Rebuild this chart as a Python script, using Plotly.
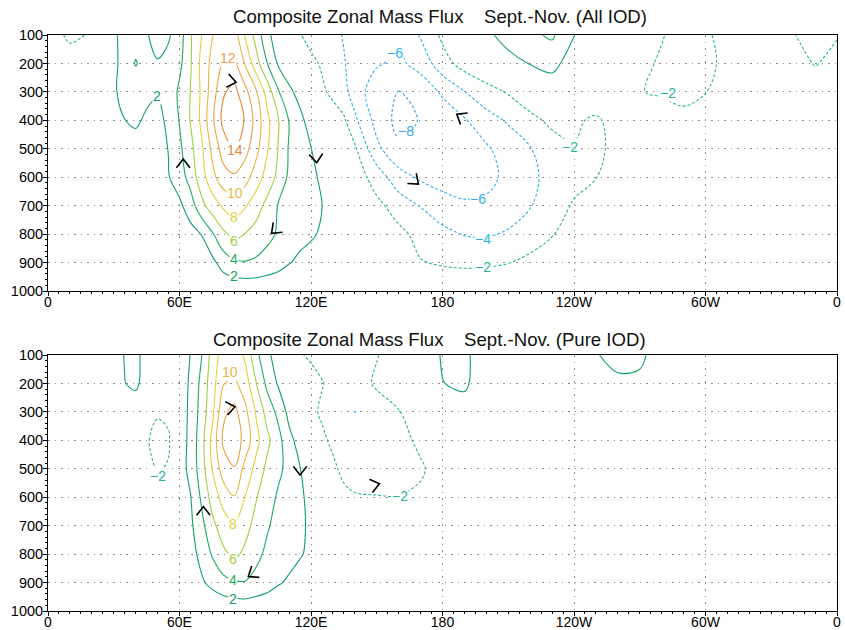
import math
import plotly.graph_objects as go

# Longitude columns (deg E) and pressure rows (hPa) of the flux grids
LON = [0, 10, 20, 25, 30, 35, 40, 45, 50, 55,
       60, 65, 70, 75, 80, 85, 90, 95, 100, 105, 110, 115, 120, 125, 130, 135, 140,
       150, 160, 170, 180, 190, 200, 210, 220, 230, 240, 250,
       260, 270, 280, 290, 300, 310, 320, 330, 340, 350, 360]
PRES = [100, 200, 300, 400, 500, 600, 700, 800, 900, 1000]

# Composite zonal mass flux, Sept.-Nov., all IOD events (one list per level)
ALL_P100 = [-1.5, -2.2, -1.9, 0.5, 1.8, 2.4, 2.3, 2.1, 1.5, 1.8,
            3.0, 5.8, 7.95, 9.9, 10.9, 11.0, 7.8, 5.2, 2.5, 1.0, 0.0, -1.9, -2.6, -3.0, -3.6, -4.1, -4.6,
            -5.2, -5.6, -3.8, -1.6, -1.0, 1.5, 2.9, 3.6, 4.3, 2.05, 0.5,
            0.0, -0.8, -1.9, -2.6, -2.3, -1.3, -0.5, -0.9, -1.95, -2.4, -2.1]
ALL_P200 = [-0.8, -1.5, -0.8, 0.5, 1.7, 2.5, 1.95, 2.3, 2.1, 2.5,
            3.5, 5.8, 8.5, 10.6, 12.1, 12.5, 9.8, 6.8, 4.05, 1.8, 0.5, -0.6, -1.6, -2.2, -3.0, -3.9, -4.6,
            -5.8, -6.4, -5.3, -2.8, -1.2, 0.0, 1.2, 2.1, 2.6, 1.0, 0.0,
            -0.5, -1.6, -2.2, -2.6, -2.4, -1.6, -0.5, -0.5, -1.3, -2.1, -1.5]
ALL_P300 = [-0.5, -0.6, 0.0, 0.8, 1.8, 2.5, 2.5, 2.3, 2.1, 2.6,
            4.4, 6.05, 8.3, 11.0, 13.8, 14.6, 12.6, 10.2, 7.2, 4.2, 2.5, 1.2, -0.9, -1.7, -2.4, -3.4, -4.9,
            -7.2, -8.05, -7.2, -5.7, -4.05, -2.9, -1.8, -0.8, 0.8, 0.3, -0.6,
            -0.8, -1.9, -2.3, -2.5, -2.05, -1.0, -0.3, -0.2, -0.6, -1.0, -0.6]
ALL_P400 = [-0.3, -0.3, 0.2, 0.8, 1.5, 1.98, 2.2, 1.8, 1.6, 2.3,
            4.1, 6.1, 8.4, 11.6, 14.6, 15.5, 13.8, 11.2, 8.5, 6.2, 3.9, 2.6, 1.0, -0.4, -1.1, -1.7, -3.6,
            -6.7, -8.6, -7.9, -7.2, -6.2, -4.7, -3.8, -2.5, -1.6, -1.7, -2.3,
            -1.2, -0.8, -0.6, -1.5, -1.0, -0.5, -0.2, 0.0, -0.3, -0.5, -0.3]
ALL_P500 = [-0.2, 0.0, 0.3, 0.5, 0.8, 1.0, 1.5, 1.3, 1.4, 2.05,
            3.6, 5.4, 7.6, 10.5, 12.9, 14.05, 12.7, 10.6, 8.2, 5.95, 3.8, 2.8, 2.05, 1.0, -0.5, -1.0, -1.7,
            -5.5, -7.6, -7.8, -7.6, -7.0, -6.3, -5.0, -4.1, -2.8, -2.1, -2.6,
            -1.2, -0.7, -0.5, -0.6, -0.4, -0.3, -0.1, 0.0, -0.2, -0.3, -0.2]
ALL_P600 = [-0.2, 0.0, 0.2, 0.3, 0.5, 0.7, 0.9, 1.0, 1.2, 1.9,
            3.0, 4.8, 7.1, 9.4, 11.2, 11.7, 10.8, 9.0, 7.2, 5.5, 3.6, 3.0, 2.4, 1.7, 0.8, -0.3, -0.9,
            -2.9, -5.2, -6.3, -6.9, -7.0, -6.6, -5.5, -4.4, -3.4, -2.6, -2.05,
            -1.0, -0.5, -0.3, -0.2, -0.1, 0.0, 0.0, 0.0, -0.1, -0.2, -0.2]
ALL_P700 = [-0.1, 0.0, 0.1, 0.2, 0.3, 0.4, 0.5, 0.6, 0.8, 1.1,
            1.6, 3.0, 5.4, 7.0, 8.3, 9.0, 8.2, 6.9, 5.4, 3.9, 3.2, 2.8, 2.4, 2.05, 1.2, 0.3, -0.3,
            -1.5, -2.9, -4.1, -5.1, -5.7, -5.6, -4.9, -4.1, -2.9, -1.8, -1.0,
            -0.5, -0.3, -0.2, -0.1, 0.0, 0.0, 0.0, 0.0, -0.1, -0.1, -0.1]
ALL_P800 = [0.0, 0.1, 0.1, 0.1, 0.2, 0.2, 0.3, 0.3, 0.4, 0.6,
            0.9, 1.3, 2.05, 3.8, 5.6, 6.6, 5.95, 5.2, 4.5, 3.8, 3.2, 2.6, 2.3, 1.7, 1.1, 0.4, 0.0,
            -0.5, -1.5, -2.6, -3.5, -4.1, -4.2, -3.8, -3.0, -2.1, -1.2, -0.6,
            -0.3, -0.1, 0.0, 0.0, 0.0, 0.0, 0.0, 0.0, 0.0, 0.0, 0.0]
ALL_P900 = [0.0, 0.0, 0.0, 0.0, 0.1, 0.1, 0.1, 0.2, 0.2, 0.3,
            0.5, 0.7, 1.0, 1.5, 2.9, 3.7, 3.9, 3.7, 3.3, 2.8, 2.1, 1.6, 1.1, 0.7, 0.4, 0.2, 0.0,
            -0.3, -0.9, -1.9, -2.2, -2.3, -2.25, -2.05, -1.5, -1.0, -0.5, -0.3,
            -0.1, 0.0, 0.0, 0.0, 0.0, 0.0, 0.0, 0.0, 0.0, 0.0, 0.0]
ALL_P1000 = [0.0, 0.0, 0.0, 0.0, 0.0, 0.0, 0.0, 0.0, 0.0, 0.0,
             0.1, 0.1, 0.2, 0.2, 0.3, 0.4, 0.5, 0.5, 0.4, 0.3, 0.2, 0.1, 0.1, 0.0, 0.0, 0.0, 0.0,
             0.0, -0.2, -0.4, -0.6, -0.8, -0.8, -0.6, -0.4, -0.2, -0.1, 0.0,
             0.0, 0.0, 0.0, 0.0, 0.0, 0.0, 0.0, 0.0, 0.0, 0.0, 0.0]

# Composite zonal mass flux, Sept.-Nov., pure IOD events
PURE_P100 = [0.0, 0.1, 0.3, 0.5, 1.0, 2.1, 2.5, 1.2, 0.6, 0.5,
             0.8, 2.05, 3.9, 6.8, 9.0, 9.3, 7.6, 4.5, 2.5, 1.0, 0.0, -1.8, -2.4, -2.6, -2.7, -2.8, -2.9,
             -2.1, -1.0, 0.5, 2.2, 2.6, 0.3, 0.1, 0.3, 0.6, 1.2, 1.9,
             2.5, 2.4, 1.0, 0.4, 0.2, 0.1, 0.0, 0.0, 0.0, 0.0, 0.0]
PURE_P200 = [0.0, 0.1, 0.3, 0.5, 0.9, 1.95, 2.4, 1.1, 0.5, 0.5,
             0.9, 2.3, 4.5, 7.2, 9.9, 10.4, 9.0, 6.05, 3.5, 1.8, 0.6, -0.3, -1.0, -1.9, -2.5, -2.8, -3.0,
             -1.7, -0.8, 0.3, 1.95, 2.4, 0.5, 0.1, 0.2, 0.3, 0.6, 1.0,
             1.7, 1.6, 0.8, 0.3, 0.1, 0.0, 0.0, 0.0, 0.0, 0.0, 0.0]
PURE_P300 = [0.0, 0.0, 0.2, 0.3, 0.5, 0.6, 0.8, -0.8, -1.8, -1.5,
             1.0, 2.4, 4.8, 7.5, 11.6, 12.6, 10.5, 7.8, 5.2, 3.5, 1.4, 0.3, -1.5, -2.3, -3.2, -3.8, -4.02,
             -3.0, -2.1, -0.9, 0.2, 1.0, 0.2, 0.0, 0.0, 0.1, 0.2, 0.3,
             0.6, 0.6, 0.3, 0.1, 0.0, 0.0, 0.0, 0.0, 0.0, 0.0, 0.0]
PURE_P400 = [0.0, 0.0, 0.1, 0.2, 0.3, 0.4, 0.2, -1.8, -2.6, -2.3,
             1.0, 2.5, 5.2, 8.6, 12.4, 13.2, 11.3, 8.6, 6.5, 4.7, 2.6, 1.2, -0.6, -1.6, -2.4, -3.0, -3.6,
             -3.3, -2.8, -1.5, -0.5, 0.0, 0.0, 0.0, 0.0, 0.0, 0.0, 0.0,
             0.0, 0.0, 0.0, 0.0, 0.0, 0.0, 0.0, 0.0, 0.0, 0.0, 0.0]
PURE_P500 = [0.0, 0.0, 0.1, 0.1, 0.2, 0.3, 0.2, -1.2, -2.2, -1.8,
             1.0, 2.6, 5.0, 8.1, 11.0, 11.9, 9.3, 7.4, 5.5, 4.5, 3.3, 2.05, 1.0, -0.8, -1.6, -2.5, -3.0,
             -3.2, -3.0, -2.3, -0.9, -0.3, 0.0, 0.0, 0.0, 0.0, 0.0, 0.0,
             0.0, 0.0, 0.0, 0.0, 0.0, 0.0, 0.0, 0.0, 0.0, 0.0, 0.0]
PURE_P600 = [0.0, 0.0, 0.0, 0.1, 0.1, 0.2, 0.2, -0.4, -0.8, -0.5,
             1.0, 1.9, 4.3, 6.8, 8.8, 9.9, 7.95, 6.1, 5.0, 3.7, 3.0, 2.3, 1.5, 0.5, -0.5, -1.5, -1.8,
             -1.9, -1.95, -1.6, -0.6, -0.2, 0.0, 0.0, 0.0, 0.0, 0.0, 0.0,
             0.0, 0.0, 0.0, 0.0, 0.0, 0.0, 0.0, 0.0, 0.0, 0.0, 0.0]
PURE_P700 = [0.0, 0.0, 0.0, 0.0, 0.1, 0.1, 0.1, 0.0, -0.2, 0.0,
             0.8, 1.6, 3.4, 5.5, 7.0, 7.8, 6.6, 5.4, 4.2, 3.4, 2.9, 2.4, 1.6, 0.6, 0.0, -0.6, -0.8,
             -1.0, -1.0, -0.7, -0.3, -0.1, 0.0, 0.0, 0.0, 0.0, 0.0, 0.0,
             0.0, 0.0, 0.0, 0.0, 0.0, 0.0, 0.0, 0.0, 0.0, 0.0, 0.0]
PURE_P800 = [0.0, 0.0, 0.0, 0.0, 0.0, 0.1, 0.1, 0.1, 0.1, 0.2,
             0.6, 1.2, 2.6, 4.2, 5.6, 6.4, 5.6, 4.5, 3.6, 3.1, 2.7, 2.2, 1.5, 0.7, 0.2, 0.0, -0.2,
             -0.4, -0.4, -0.3, -0.1, 0.0, 0.0, 0.0, 0.0, 0.0, 0.0, 0.0,
             0.0, 0.0, 0.0, 0.0, 0.0, 0.0, 0.0, 0.0, 0.0, 0.0, 0.0]
PURE_P900 = [0.0, 0.0, 0.0, 0.0, 0.0, 0.0, 0.0, 0.0, 0.1, 0.1,
             0.3, 0.7, 1.7, 2.6, 3.4, 3.8, 3.9, 3.4, 2.9, 2.2, 1.7, 1.0, 0.6, 0.3, 0.1, 0.0, 0.0,
             0.0, 0.0, 0.0, 0.0, 0.0, 0.0, 0.0, 0.0, 0.0, 0.0, 0.0,
             0.0, 0.0, 0.0, 0.0, 0.0, 0.0, 0.0, 0.0, 0.0, 0.0, 0.0]
PURE_P1000 = [0.0, 0.0, 0.0, 0.0, 0.0, 0.0, 0.0, 0.0, 0.0, 0.0,
              0.1, 0.1, 0.2, 0.2, 0.3, 0.5, 0.6, 0.5, 0.4, 0.3, 0.2, 0.1, 0.1, 0.0, 0.0, 0.0, 0.0,
              0.0, 0.0, 0.0, 0.0, 0.0, 0.0, 0.0, 0.0, 0.0, 0.0, 0.0,
              0.0, 0.0, 0.0, 0.0, 0.0, 0.0, 0.0, 0.0, 0.0, 0.0, 0.0]

ALL_IOD = [ALL_P100, ALL_P200, ALL_P300, ALL_P400, ALL_P500,
           ALL_P600, ALL_P700, ALL_P800, ALL_P900, ALL_P1000]
PURE_IOD = [PURE_P100, PURE_P200, PURE_P300, PURE_P400, PURE_P500,
            PURE_P600, PURE_P700, PURE_P800, PURE_P900, PURE_P1000]
for row in ALL_IOD + PURE_IOD:
    assert len(row) == len(LON)

# Contour levels and their line colours
LEVELS = [-8, -6, -4, -2, 2, 4, 6, 8, 10, 12, 14]
LEVEL_COLORS = {-8: "#3ca2e6", -6: "#35b0ee", -4: "#2bb3de", -2: "#27b39c",
                2: "#12a062", 4: "#1eaa5c", 6: "#a2cf3e", 8: "#e0d03a",
                10: "#e9b646", 12: "#eba04a", 14: "#e3873a"}

# Contour labels: (lon, pressure, level)
ALL_LABELS = [(82.0, 181, 12), (85.3, 504, 14), (85.3, 655, 10), (84.9, 740, 8),
              (84.9, 824, 6), (84.9, 887, 4), (84.9, 946, 2), (49.7, 316, 2),
              (158.3, 162, -6), (163.3, 437, -8), (196.0, 677, -6), (198.6, 818, -4),
              (198.3, 917, -2), (238.2, 495, -2), (283.0, 305, -2)]
PURE_LABELS = [(83.0, 159, 10), (84.6, 694, 8), (84.6, 817, 6), (84.6, 891, 4),
               (84.6, 959, 2), (50.3, 525, -2), (160.6, 595, -2)]

# Flow-direction chevrons: (lon, pressure, heading in degrees, 0 = east, 90 = up)
ALL_ARROWS = [(85.8, 266, -10), (61.7, 536, 90), (122.6, 549, -85),
              (102.0, 797, -137), (186.5, 378, 148), (169.0, 624, -41)]
PURE_ARROWS = [(85.3, 282, 10), (70.9, 633, 90), (115.0, 522, -90),
               (91.4, 879, -146), (151.2, 553, 13)]

X_TICKS = [0, 60, 120, 180, 240, 300, 360]
X_TICK_TEXT = ["0", "60E", "120E", "180", "120W", "60W", "0"]
Y_TICKS = [100, 200, 300, 400, 500, 600, 700, 800, 900, 1000]

TITLE_ALL = "Composite Zonal Mass Flux\u00a0\u00a0\u00a0\u00a0Sept.-Nov. (All IOD)"
TITLE_PURE = "Composite Zonal Mass Flux\u00a0\u00a0\u00a0\u00a0Sept.-Nov. (Pure IOD)"

# Page geometry
W, H = 845, 630
M_L, M_R, M_T, M_B = 48, 8, 35, 19
PLOT_W = W - M_L - M_R
PANEL_H = 256
PLOT_H = H - M_T - M_B
PX_PER_DEG = PLOT_W / 360.0
PX_PER_HPA = PANEL_H / 900.0

FONT = "Liberation Sans, Arial, Helvetica, sans-serif"


def level_text(v):
    return "\u2212%d" % (-v) if v < 0 else "%d" % v


def chevron_path(lon, p, heading, arm=11.0, half=38.0):
    """Two arms of a chevron whose tip sits at (lon, p), in data units."""
    xs, ys = [], []
    for s in (1, -1):
        a = math.radians(heading + 180.0 + s * half)
        xs.append(lon + arm * math.cos(a) / PX_PER_DEG)
        ys.append(p - arm * math.sin(a) / PX_PER_HPA)
    return [xs[0], lon, xs[1], None], [ys[0], p, ys[1], None]


fig = go.Figure()

panels = [
    dict(rows=ALL_IOD, labels=ALL_LABELS, arrows=ALL_ARROWS, xa="x", ya="y",
         title=TITLE_ALL, title_px=440, title_shift=18.5),
    dict(rows=PURE_IOD, labels=PURE_LABELS, arrows=PURE_ARROWS, xa="x2", ya="y2",
         title=TITLE_PURE, title_px=429.5, title_shift=15.5),
]

annotations = []
for pan in panels:
    for lev in LEVELS:
        fig.add_trace(go.Contour(
            x=LON, y=PRES, z=pan["rows"], xaxis=pan["xa"], yaxis=pan["ya"],
            autocontour=False,
            contours=dict(start=lev, end=lev, size=1, coloring="none", showlabels=False),
            line=dict(color=LEVEL_COLORS[lev], width=1.1,
                      dash="3px,2px" if lev < 0 else "solid", smoothing=1.0),
            showscale=False, hoverinfo="skip"))

    ax, ay = [], []
    for lon, p, hd in pan["arrows"]:
        cx, cy = chevron_path(lon, p, hd)
        ax += cx
        ay += cy
    fig.add_trace(go.Scatter(x=ax, y=ay, xaxis=pan["xa"], yaxis=pan["ya"], mode="lines",
                             line=dict(color="black", width=1.6), hoverinfo="skip"))

    for lon, p, lev in pan["labels"]:
        annotations.append(dict(
            x=lon, y=p, xref=pan["xa"], yref=pan["ya"], text=level_text(lev),
            showarrow=False, font=dict(family=FONT, size=14, color=LEVEL_COLORS[lev]),
            bgcolor="white", borderpad=0))

# Panel titles
top_domain = [(PANEL_H + (PLOT_H - 2 * PANEL_H)) / PLOT_H, 1.0]
bot_domain = [0.0, PANEL_H / PLOT_H]
for pan, dom in zip(panels, (top_domain, bot_domain)):
    annotations.append(dict(
        x=(pan["title_px"] - M_L) / PLOT_W, y=dom[1], xref="paper", yref="paper",
        xanchor="center", yanchor="middle", yshift=pan["title_shift"],
        text=pan["title"], showarrow=False,
        font=dict(family=FONT, size=18.6, color="#111111")))

x_font = dict(family=FONT, size=14, color="black")
y_font = dict(family=FONT, size=14.5, color="black")


def x_axis(anchor):
    return dict(range=[0, 360], tickmode="array", tickvals=X_TICKS, ticktext=X_TICK_TEXT,
                showgrid=True, gridcolor="#8a8a8a", gridwidth=1, griddash="1.5px,5px",
                showline=True, linecolor="black", linewidth=1, mirror=True,
                ticks="outside", ticklen=4, tickcolor="black", tickfont=x_font,
                ticklabelstandoff=-6,
                zeroline=False, anchor=anchor, automargin=False,
                minor=dict(tickmode="linear", tick0=0, dtick=5, ticks="outside",
                           ticklen=2, tickcolor="black", showgrid=False))


def y_axis(domain, anchor):
    return dict(range=[1000, 100], domain=domain, tickmode="array", tickvals=Y_TICKS,
                ticktext=[str(v) for v in Y_TICKS],
                showgrid=True, gridcolor="#8a8a8a", gridwidth=1, griddash="1.5px,5px",
                showline=True, linecolor="black", linewidth=1, mirror=True,
                ticks="outside", ticklen=4, tickcolor="black", tickfont=y_font,
                ticklabelstandoff=-3,
                zeroline=False, anchor=anchor, automargin=False,
                minor=dict(tickmode="linear", tick0=100, dtick=20, ticks="outside",
                           ticklen=2, tickcolor="black", showgrid=False))


fig.update_layout(
    width=W, height=H,
    margin=dict(l=M_L, r=M_R, t=M_T, b=M_B, pad=0, autoexpand=False),
    paper_bgcolor="white", plot_bgcolor="white",
    showlegend=False,
    xaxis=x_axis("y"), yaxis=y_axis(top_domain, "x"),
    xaxis2=x_axis("y2"), yaxis2=y_axis(bot_domain, "x2"),
    annotations=annotations,
)

fig.write_html("out.html")
